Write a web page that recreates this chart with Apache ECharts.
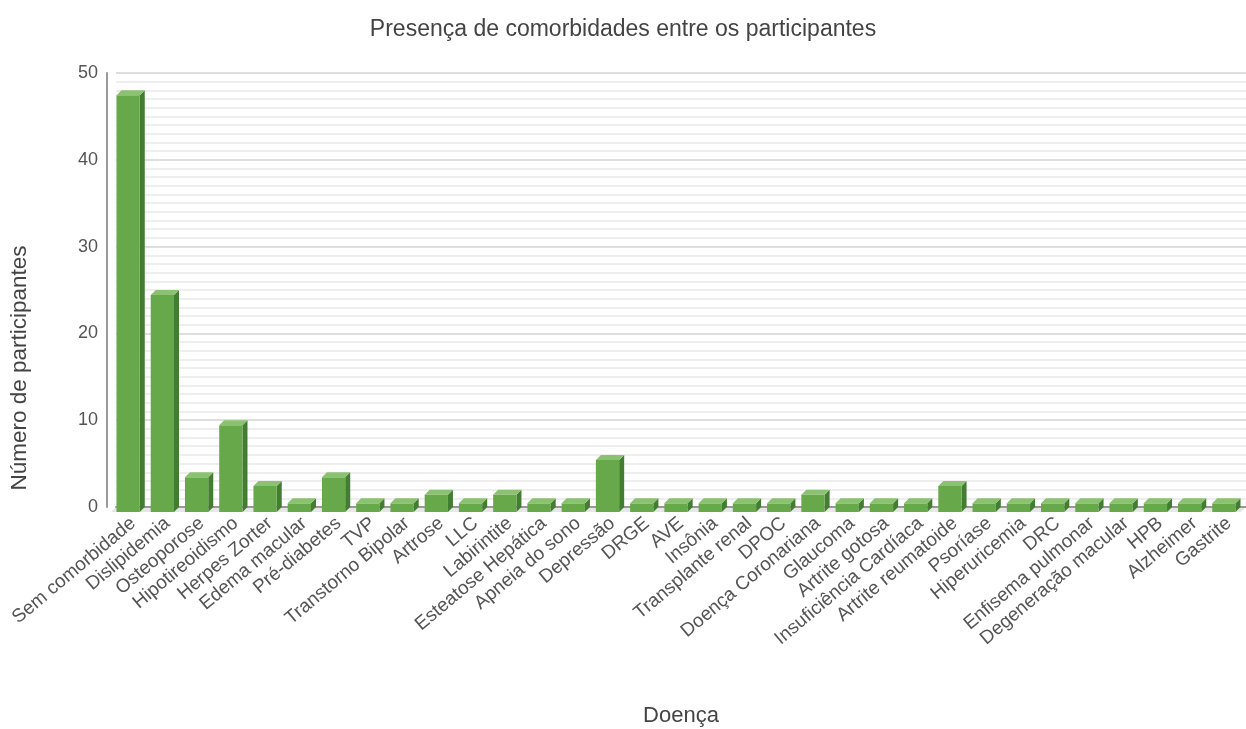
<!DOCTYPE html>
<html>
<head>
<meta charset="utf-8">
<script src="https://cdn.jsdelivr.net/npm/echarts@6/dist/echarts.min.js"></script>
<style>html,body{margin:0;padding:0;background:#fff}#c{width:1246px;height:729px}</style>
</head>
<body>
<div id="c"></div>
<script>
const categories = ["Sem comorbidade","Dislipidemia","Osteoporose","Hipotireoidismo","Herpes Zorter","Edema macular","Pré-diabetes","TVP","Transtorno Bipolar","Artrose","LLC","Labirintite","Esteatose Hepática","Apneia do sono","Depressão","DRGE","AVE","Insônia","Transplante renal","DPOC","Doença Coronariana","Glaucoma","Artrite gotosa","Insuficiência Cardíaca","Artrite reumatoide","Psoríase","Hiperuricemia","DRC","Enfisema pulmonar","Degeneração macular","HPB","Alzheimer","Gastrite"];
const values = [48,25,4,10,3,1,4,1,1,2,1,2,1,1,6,1,1,1,1,1,2,1,1,1,3,1,1,1,1,1,1,1,1];
const yTicks = [0,10,20,30,40,50];

const FONT = "'Liberation Sans', Arial, sans-serif";
const DEPTH = 5;

const chart = echarts.init(document.getElementById('c'), null, {renderer: 'canvas'});

function barItem(params, api) {
  const i = api.value(0), v = api.value(1);
  const t = api.coord([i, v]);
  const b = api.coord([i, 0]);
  const band = api.size([1, 0])[0];
  const w = band * 0.68;
  const d = DEPTH;
  const cx = t[0];
  const L = cx - w / 2, R = cx + w / 2;
  return {
    type: 'group',
    children: [
      {type: 'polygon', shape: {points: [[R - d, t[1] + d], [R, t[1]], [R, b[1]], [R - d, b[1] + d]]}, style: {fill: '#427d31'}},
      {type: 'rect', shape: {x: L - d, y: t[1] + d, width: w, height: b[1] - t[1]}, style: {fill: '#67a84b'}},
      {type: 'polygon', shape: {points: [[L - d, t[1] + d], [L, t[1]], [R, t[1]], [R - d, t[1] + d]]}, style: {fill: '#8bc271'}}
    ]
  };
}

function floorItem(params, api) {
  const i = api.value(0);
  const b = api.coord([i, 0]);
  const band = api.size([1, 0])[0];
  const d = DEPTH;
  const l = b[0] - band / 2, r = b[0] + band / 2;
  return {
    type: 'polygon',
    shape: {points: [[l, b[1]], [r, b[1]], [r - d, b[1] + d], [l - d, b[1] + d]]},
    style: {fill: '#e6e6e6'}
  };
}

const data = categories.map((c, i) => [i, values[i]]);

chart.setOption({
  animation: false,
  backgroundColor: '#ffffff',
  textStyle: {fontFamily: FONT},
  title: {
    text: 'Presença de comorbidades entre os participantes',
    left: 'center',
    top: 13,
    textStyle: {fontFamily: FONT, fontSize: 23, fontWeight: 'normal', color: '#444'}
  },
  graphic: [{
    type: 'text',
    rotation: Math.PI / 2,
    x: 20, y: 368,
    style: {text: 'Número de participantes', fontFamily: FONT, fontSize: 22.5, fill: '#444', align: 'center', verticalAlign: 'middle'}
  }],
  grid: {left: 116, right: 0, top: 73, bottom: 222, containLabel: false, outerBoundsMode: 'none'},
  xAxis: {
    type: 'category',
    data: categories,
    name: 'Doença',
    nameLocation: 'middle',
    nameGap: 198,
    nameTextStyle: {fontFamily: FONT, fontSize: 22, color: '#444'},
    axisLine: {show: true, lineStyle: {color: '#999', width: 2}},
    axisTick: {show: false},
    axisLabel: {interval: 0, rotate: 40, margin: 14, fontFamily: FONT, fontSize: 19, color: '#555'},
    splitLine: {show: false}
  },
  yAxis: {
    type: 'value',
    min: 0, max: 50, interval: 10,
    offset: 9,
    axisLine: {show: true, lineStyle: {color: '#9a9a9a', width: 2}},
    axisTick: {show: false},
    axisLabel: {margin: 9, fontFamily: FONT, fontSize: 18, color: '#555',
      formatter: v => yTicks.includes(v) ? String(v) : ''},
    splitLine: {show: true, lineStyle: {color: '#dedede', width: 2}},
    minorTick: {show: false, splitNumber: 10},
    minorSplitLine: {show: true, lineStyle: {color: '#eeeeee', width: 2}}
  },
  series: [
    {type: 'custom', name: 'floor', z: -1, data: data, renderItem: floorItem, encode: {x: 0, y: 1}, silent: true},
    {type: 'custom', name: 'Participantes', z: 3, data: data, renderItem: barItem, encode: {x: 0, y: 1}}
  ]
});
</script>
</body>
</html>
